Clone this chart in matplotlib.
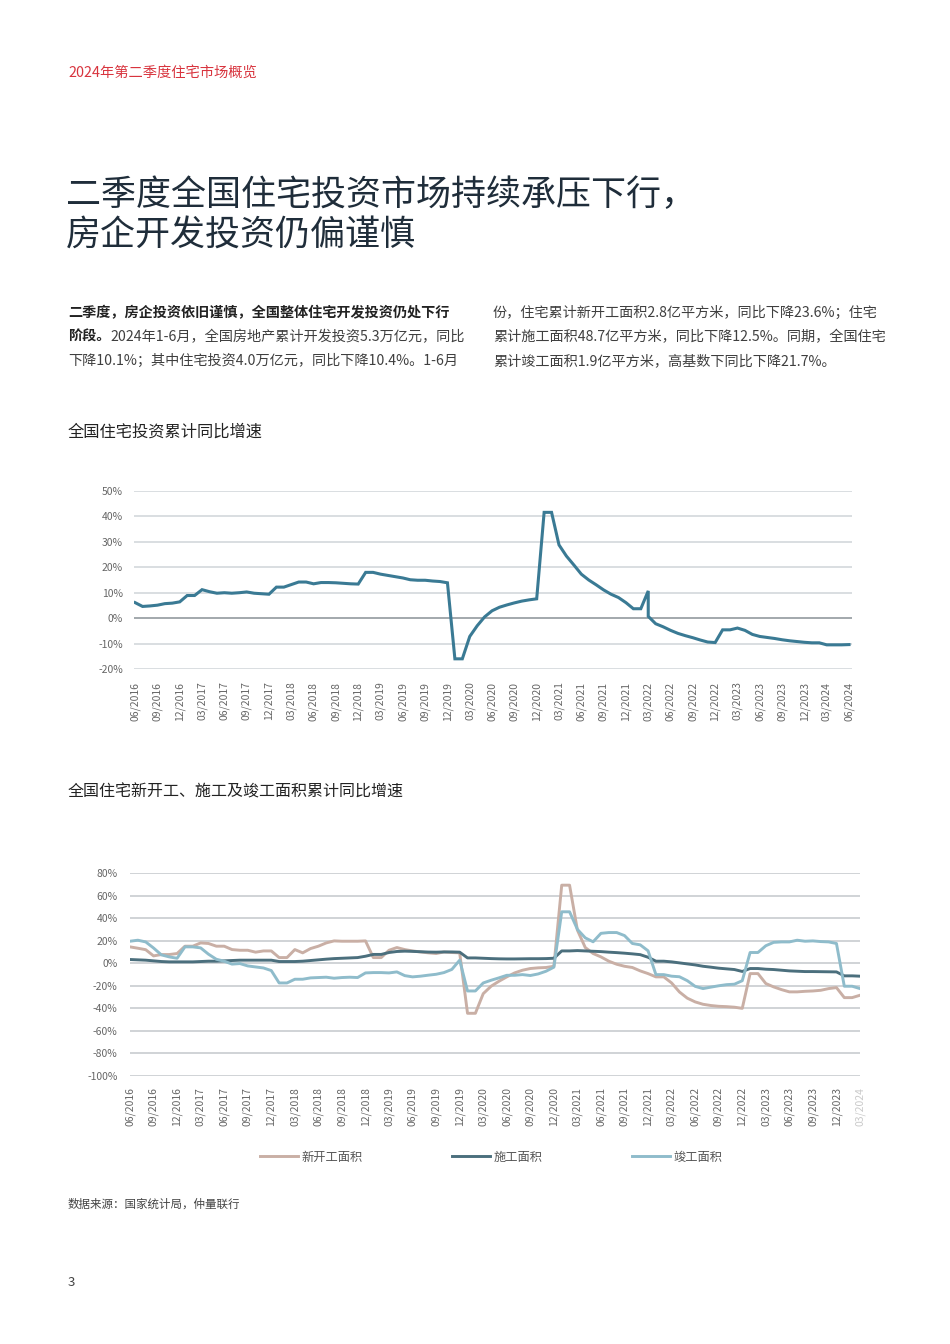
import matplotlib
matplotlib.use("Agg")
import matplotlib.pyplot as plt
from matplotlib.ticker import FuncFormatter, MultipleLocator
import pandas as pd

plt.rcParams['font.family'] = ['Noto Sans CJK SC', 'DejaVu Sans']

# ---- data: chart 1, residential investment, cumulative YoY (%)
inv_start, inv_end = '2016-06', '2024-06'
inv_values = [6.1, 4.6, 4.8, 5.1, 5.7, 5.9, 6.4,
              8.9, 8.9, 11.2, 10.4, 9.8, 10.0, 9.8, 10.0, 10.3, 9.8, 9.6, 9.4,
              12.2, 12.2, 13.2, 14.2, 14.2, 13.5, 14.0, 14.0, 13.9, 13.7, 13.5, 13.4,
              18.0, 18.0, 17.3, 16.8, 16.3, 15.8, 15.1, 14.9, 14.9, 14.6, 14.4, 13.9,
              -16.0, -16.0, -7.2, -3.0, 0.5, 2.9, 4.3, 5.2, 6.0, 6.7, 7.2, 7.6,
              41.6, 41.6, 28.8, 24.4, 20.9, 17.3, 15.0, 13.1, 11.1, 9.4, 8.1, 6.1,
              3.7, 3.7, 0.7, -2.2, -3.4, -4.8, -6.0, -6.9, -7.7, -8.6, -9.4, -9.6,
              -4.6, -4.6, -3.9, -4.8, -6.4, -7.2, -7.6, -8.0, -8.5, -8.9, -9.2, -9.5,
              -9.7, -9.7, -10.5, -10.5, -10.5, -10.4]
# the source series carries a second 03/2022 entry
inv_dup_month, inv_dup_value = '2022-03', 10.7

# ---- data: chart 2, new starts / under construction / completions (%)
area_start, area_end = '2016-06', '2024-03'
new_start = [14.5, 13.3, 12.0, 6.5, 7.7, 7.7, 8.6,
             15.1, 15.1, 18.0, 17.5, 15.1, 15.1, 12.1, 11.5, 11.5, 9.8, 10.9, 10.9,
             5.0, 5.0, 12.1, 9.2, 13.0, 15.1, 18.0, 19.8, 19.5, 19.5, 19.5, 19.8,
             5.0, 5.0, 11.5, 13.9, 12.1, 10.9, 10.0, 9.2, 8.6, 10.0, 9.5, 9.2,
             -44.4, -44.4, -27.0, -20.4, -16.0, -12.1, -8.6, -6.2, -4.7, -4.1, -3.8, -2.7,
             69.2, 69.2, 29.3, 13.9, 8.6, 5.6, 1.8, -0.9, -2.7, -3.8, -6.8, -9.2,
             -12.1, -12.1, -17.5, -25.5, -31.0, -34.3, -36.4, -37.5, -38.2, -38.5, -39.0, -40.0,
             -9.2, -9.2, -18.0, -21.0, -23.4, -25.4, -25.4, -24.9, -24.6, -24.0, -22.5, -21.6,
             -30.5, -30.5, -28.4]
under_constr = [3.3, 3.0, 2.7, 2.1, 1.5, 1.2, 1.2,
                1.2, 1.2, 1.5, 1.8, 1.8, 2.1, 2.4, 2.7, 2.7, 2.7, 2.7, 2.7,
                1.5, 1.5, 1.5, 1.8, 2.4, 3.0, 3.6, 4.1, 4.4, 4.7, 5.0, 6.2,
                7.8, 7.8, 9.5, 10.4, 10.7, 10.5, 10.2, 9.9, 9.8, 10.0, 10.0, 9.8,
                4.7, 4.7, 4.4, 4.1, 3.9, 3.8, 3.8, 3.9, 4.0, 4.0, 4.1, 4.4,
                10.9, 10.9, 11.2, 10.9, 10.6, 10.3, 9.8, 9.4, 8.9, 8.3, 7.6, 5.3,
                1.8, 1.8, 1.2, 0.3, -0.6, -1.5, -2.7, -3.5, -4.4, -5.0, -5.6, -7.3,
                -4.7, -4.7, -5.3, -5.6, -6.2, -6.8, -7.1, -7.4, -7.4, -7.5, -7.6, -7.7,
                -11.2, -11.2, -11.5]
completed = [19.5, 20.4, 18.9, 13.5, 7.4, 5.6, 4.4,
             14.5, 14.5, 13.6, 8.0, 3.5, 1.8, -0.8, -0.3, -2.4, -3.3, -4.2, -6.5,
             -17.5, -17.5, -14.2, -14.2, -13.0, -12.7, -12.4, -13.3, -12.7, -12.4, -12.7, -8.6,
             -8.3, -8.3, -8.6, -7.7, -11.0, -12.1, -11.5, -10.6, -9.8, -8.3, -5.5, 2.7,
             -24.6, -24.6, -17.5, -15.1, -13.0, -10.7, -10.7, -10.1, -10.9, -9.5, -7.1, -3.5,
             45.6, 45.6, 30.0, 22.5, 19.0, 26.5, 27.2, 27.2, 24.5, 17.5, 16.3, 11.0,
             -10.1, -10.1, -11.5, -12.0, -15.5, -20.5, -22.5, -21.2, -20.0, -19.0, -18.6, -15.5,
             9.5, 9.5, 15.5, 18.5, 18.9, 18.9, 20.4, 19.5, 19.8, 19.2, 18.9, 17.5,
             -20.4, -20.4, -22.5]
area_labels = ['新开工面积', '施工面积', '竣工面积']

# ---- colours
c_inv = '#3a7a94'
c_new = '#c9afa5'
c_con = '#4b6f7d'
c_com = '#8fbccb'
c_grid = '#d3d8dc'
c_tick = '#666666'

W, H = 950, 1344
fig = plt.figure(figsize=(W / 100, H / 100), dpi=100)


def fx(px):
    return px / W


def fy(py):
    return 1 - py / H


# ---- page text
fig.text(fx(68), fy(73), '2024年第二季度住宅市场概览', color='#d8343e',
         fontsize=10.3, va='center')
fig.text(fx(66), fy(195), '二季度全国住宅投资市场持续承压下行，', color='#1f2d3a',
         fontsize=25.2, va='center', fontweight='light')
fig.text(fx(66), fy(236), '房企开发投资仍偏谨慎', color='#1f2d3a',
         fontsize=25.2, va='center', fontweight='light')

para_fs = 10.2
para_col = '#3f3f3f'
fig.text(fx(68), fy(313), '二季度，房企投资依旧谨慎，全国整体住宅开发投资仍处下行',
         fontsize=para_fs, fontweight='bold', color='#222222', va='center')
t_bold = fig.text(fx(68), fy(337), '阶段。', fontsize=para_fs, fontweight='bold',
                  color='#222222', va='center')
r = fig.canvas.get_renderer()
bw = t_bold.get_window_extent(renderer=r).width
fig.text(fx(68 + bw), fy(337), '2024年1-6月，全国房地产累计开发投资5.3万亿元，同比',
         fontsize=para_fs, color=para_col, va='center')
fig.text(fx(68), fy(361), '下降10.1%；其中住宅投资4.0万亿元，同比下降10.4%。1-6月',
         fontsize=para_fs, color=para_col, va='center')
right_lines = ['份，住宅累计新开工面积2.8亿平方米，同比下降23.6%；住宅',
               '累计施工面积48.7亿平方米，同比下降12.5%。同期，全国住宅',
               '累计竣工面积1.9亿平方米，高基数下同比下降21.7%。']
for k, line in enumerate(right_lines):
    fig.text(fx(493), fy(313 + 24 * k), line, fontsize=para_fs, color=para_col, va='center')

fig.text(fx(68), fy(432), '全国住宅投资累计同比增速', fontsize=11.7, color='#222222', va='center')
fig.text(fx(68), fy(792), '全国住宅新开工、施工及竣工面积累计同比增速', fontsize=11.5,
         color='#222222', va='center')
fig.text(fx(68), fy(1204), '数据来源：国家统计局，仲量联行', fontsize=8.3, color='#444444', va='center')
fig.text(fx(68), fy(1283), '3', fontsize=9.5, color='#444444', va='center')

pct = FuncFormatter(lambda v, p: '%d%%' % round(v))


def month_axis(ax, months, step=3):
    ticks = list(range(0, len(months), step))
    ax.set_xticks(ticks)
    ax.set_xticklabels([months[t].strftime('%m/%Y') for t in ticks], rotation=90,
                       fontsize=7.5, color=c_tick)


def style(ax):
    for s in ax.spines.values():
        s.set_visible(False)
    ax.tick_params(length=0)
    ax.yaxis.set_major_formatter(pct)
    for lab in ax.get_yticklabels():
        lab.set_fontsize(7.5)
        lab.set_color(c_tick)
    ax.set_axisbelow(True)


# ---- chart 1
ax1 = fig.add_axes([fx(134), fy(669), fx(852) - fx(134), fy(491) - fy(669)])
inv_months = pd.period_range(inv_start, inv_end, freq='M')
x1 = list(range(len(inv_months)))
y1 = list(inv_values)
k_dup = list(inv_months.strftime('%Y-%m')).index(inv_dup_month)
x1.insert(k_dup, k_dup)
y1.insert(k_dup, inv_dup_value)
ax1.plot(x1, y1, color=c_inv, lw=2.2, solid_joinstyle='miter')
ax1.set_ylim(-20, 50)
ax1.set_xlim(-0.15, 96.4)
ax1.yaxis.set_major_locator(MultipleLocator(10))
ax1.grid(axis='y', color=c_grid, lw=1.2)
ax1.axhline(0, color='#9aa0a4', lw=1.2, zorder=1)
month_axis(ax1, inv_months)
style(ax1)
ax1.tick_params(axis='x', pad=9)
ax1.tick_params(axis='y', pad=8)

# ---- chart 2
ax2 = fig.add_axes([fx(130), fy(1076), fx(860) - fx(130), fy(873) - fy(1076)])
area_months = pd.period_range(area_start, area_end, freq='M')
x2 = range(len(area_months))
ax2.plot(x2, new_start, color=c_new, lw=2.1, label=area_labels[0])
ax2.plot(x2, under_constr, color=c_con, lw=2.1, label=area_labels[1])
ax2.plot(x2, completed, color=c_com, lw=2.1, label=area_labels[2])
ax2.set_ylim(-100, 80)
ax2.set_xlim(0, 92.8)
ax2.yaxis.set_major_locator(MultipleLocator(20))
ax2.grid(axis='y', color='#c4c8cb', lw=1.1)
month_axis(ax2, area_months)
style(ax2)
ax2.tick_params(axis='x', pad=8)
ax2.tick_params(axis='y', pad=9)
# last label sits at the cropped edge of the chart in the source
ax2.get_xticklabels()[-1].set_alpha(0.35)
leg = ax2.legend(loc='center', bbox_to_anchor=(0.495, -0.399), ncol=3, frameon=False,
                 fontsize=8.8, handlelength=3.1, handletextpad=0.3, columnspacing=7.3)
for t in leg.get_texts():
    t.set_color('#555555')

fig.savefig('out.png', dpi=100, facecolor='white')
